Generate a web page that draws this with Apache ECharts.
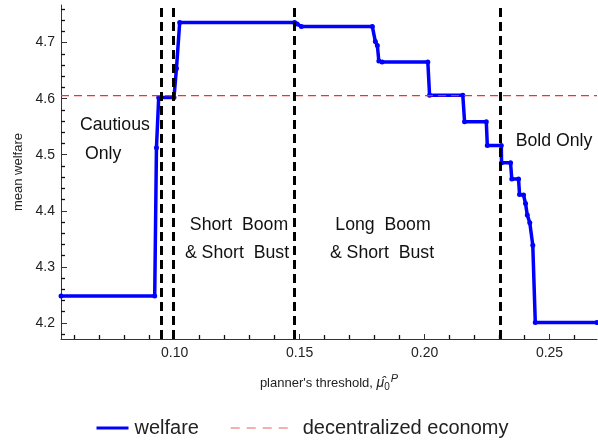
<!DOCTYPE html>
<html>
<head>
<meta charset="utf-8">
<script src="https://cdn.jsdelivr.net/npm/echarts@6/dist/echarts.min.js"></script>
<style>html,body{margin:0;padding:0;background:#fff}#c{width:598px;height:441px}</style>
</head>
<body>
<div id="c"></div>
<script>
// planner's threshold values and mean welfare
const thresholds = [0.0545, 0.0920, 0.0927, 0.0936, 0.0997, 0.1007, 0.1020, 0.1480, 0.1490, 0.1507,
  0.1791, 0.1803, 0.1811, 0.1817, 0.1830, 0.2013, 0.2020, 0.2153, 0.2160, 0.2247,
  0.2251, 0.2307, 0.2308, 0.2344, 0.2349, 0.2376, 0.2380, 0.2396, 0.2404, 0.2411,
  0.2421, 0.2433, 0.2443, 0.2690];
const welfare = [4.2482, 4.2482, 4.5125, 4.6020, 4.6020, 4.6536, 4.7357, 4.7357, 4.7330, 4.7285,
  4.7285, 4.7018, 4.6946, 4.6670, 4.6655, 4.6655, 4.6060, 4.6060, 4.5589, 4.5589,
  4.5166, 4.5166, 4.4857, 4.4857, 4.4566, 4.4566, 4.4293, 4.4280, 4.4132, 4.3923,
  4.3786, 4.3388, 4.2007, 4.2007];
const decentralizedWelfare = 4.6055;
const regimeBounds = [0.0948, 0.0996, 0.1478, 0.2303];
const xMajorTicks = [0.10, 0.15, 0.20, 0.25];
const xMinorTicks = [0.06, 0.07, 0.08, 0.09, 0.11, 0.12, 0.13, 0.14, 0.16, 0.17, 0.18, 0.19, 0.21, 0.22, 0.23, 0.24, 0.26];
const yMajorTicks = [4.2, 4.3, 4.4, 4.5, 4.6, 4.7];
const yMinorTicks = [4.18, 4.22, 4.24, 4.26, 4.28, 4.32, 4.34, 4.36, 4.38, 4.42, 4.44, 4.46, 4.48,
  4.52, 4.54, 4.56, 4.58, 4.62, 4.64, 4.66, 4.68, 4.72, 4.74, 4.76];
const xRange = [0.0545, 0.2690];
const yRange = [4.1714, 4.767];

const FONT = "'Liberation Sans', Arial, sans-serif";
const AX = '#333';

const chart = echarts.init(document.getElementById('c'), null, {renderer: 'canvas'});
const gridBox = {left: 61, right: 1, top: 5, bottom: 102};
const baseX = {type: 'value', min: xRange[0], max: xRange[1], splitLine: {show: false}, position: 'bottom'};
const baseY = {type: 'value', min: yRange[0], max: yRange[1], splitLine: {show: false}, position: 'left'};

const annot = (text, x, y) => ({type: 'text', x: x, y: y, z: 10,
  style: {text: text, fontSize: 17.7, fontFamily: FONT, fill: '#111', align: 'center', verticalAlign: 'middle'}});

chart.setOption({
  animation: false,
  backgroundColor: '#fff',
  grid: [Object.assign({}, gridBox), Object.assign({}, gridBox)],
  xAxis: [
    Object.assign({}, baseX, {
      gridIndex: 0,
      axisLine: {lineStyle: {color: AX, width: 1}},
      axisTick: {inside: true, length: 5, customValues: xMajorTicks, lineStyle: {color: AX}},
      axisLabel: {customValues: xMajorTicks, margin: 7, color: '#222', fontSize: 14, fontFamily: FONT,
        formatter: v => v.toFixed(2)},
      name: "planner's threshold, {m|μ̂}{sub|0}{sup|P}",
      nameLocation: 'middle', nameGap: 34,
      nameTextStyle: {color: '#222', fontSize: 13, fontFamily: FONT,
        rich: {
          m: {fontSize: 14, fontStyle: 'italic', fontFamily: FONT, color: '#222'},
          sub: {fontSize: 10, fontFamily: FONT, color: '#222', padding: [8, 0, 0, 0]},
          sup: {fontSize: 11, fontStyle: 'italic', fontFamily: FONT, color: '#222', padding: [0, 0, 10, 1]}
        }}
    }),
    Object.assign({}, baseX, {
      gridIndex: 1,
      axisLine: {show: true, lineStyle: {color: 'rgba(0,0,0,0)'}},
      axisTick: {show: true, inside: true, length: 4, customValues: xMinorTicks, lineStyle: {color: '#111', width: 1.3}},
      axisLabel: {show: true, customValues: xMinorTicks, color: 'rgba(0,0,0,0)', formatter: () => ''}
    })
  ],
  yAxis: [
    Object.assign({}, baseY, {
      gridIndex: 0,
      axisLine: {show: true, lineStyle: {color: AX, width: 1}},
      axisTick: {show: true, inside: true, length: 6, customValues: yMajorTicks, lineStyle: {color: AX}},
      axisLabel: {customValues: yMajorTicks, margin: 6, color: '#222', fontSize: 14, fontFamily: FONT,
        formatter: v => v.toFixed(1)},
      name: 'mean welfare', nameLocation: 'middle', nameGap: 35, nameRotate: 90,
      nameTextStyle: {color: '#222', fontSize: 13, fontFamily: FONT}
    }),
    Object.assign({}, baseY, {
      gridIndex: 1,
      axisLine: {show: true, lineStyle: {color: 'rgba(0,0,0,0)'}},
      axisTick: {show: true, inside: true, length: 4, customValues: yMinorTicks, lineStyle: {color: '#111', width: 1.3}},
      axisLabel: {show: true, customValues: yMinorTicks, color: 'rgba(0,0,0,0)', formatter: () => ''}
    })
  ],
  legend: [
    {data: [{name: 'welfare'}], left: 90, top: 413, itemWidth: 32, itemHeight: 14,
      itemStyle: {opacity: 0}, lineStyle: {width: 3},
      textStyle: {fontSize: 20, fontFamily: FONT, color: '#222', padding: [0, 0, 0, 1]}},
    {data: [{name: 'decentralized economy'}], left: 225, top: 413, itemWidth: 61, itemHeight: 14,
      itemStyle: {opacity: 0}, lineStyle: {width: 1.5, color: '#f29595', type: [9, 7]},
      textStyle: {fontSize: 20, fontFamily: FONT, color: '#222', padding: [0, 0, 0, 6]}}
  ],
  series: [
    {
      name: 'welfare', type: 'line', z: 2, xAxisIndex: 0, yAxisIndex: 0,
      data: thresholds.map((x, i) => [x, welfare[i]]),
      color: '#0000ff',
      lineStyle: {color: '#0000ff', width: 3.5},
      itemStyle: {color: '#0000ff'},
      symbol: 'circle', symbolSize: 5, showSymbol: true
    },
    {
      name: 'decentralized economy', type: 'line', z: 3, xAxisIndex: 0, yAxisIndex: 0,
      data: [[xRange[0], decentralizedWelfare], [xRange[1], decentralizedWelfare]],
      color: '#ff2a2a',
      lineStyle: {color: '#ff2a2a', width: 1.2, type: [8, 5]},
      itemStyle: {color: '#ff2a2a'},
      symbol: 'none',
      markLine: {
        silent: true, symbol: ['none', 'none'], label: {show: false}, precision: 6,
        lineStyle: {color: '#000', width: 3, type: [9, 5]},
        emphasis: {disabled: true},
        data: regimeBounds.map(b => ({xAxis: b}))
      }
    },
    {
      name: 'minorTickCarrier', type: 'line', xAxisIndex: 1, yAxisIndex: 1, data: [], silent: true
    }
  ],
  graphic: [
    {type: 'text', left: 80, top: 116, z: 10, style: {text: 'Cautious', fontSize: 17.7, fontFamily: FONT, fill: '#111'}},
    {type: 'text', left: 85, top: 145, z: 10, style: {text: 'Only', fontSize: 17.7, fontFamily: FONT, fill: '#111'}},
    annot('Short  Boom', 239, 225),
    annot('& Short  Bust', 237, 253),
    annot('Long  Boom', 383, 225),
    annot('& Short  Bust', 382, 253),
    annot('Bold Only', 554, 141)
  ]
});
</script>
</body>
</html>
